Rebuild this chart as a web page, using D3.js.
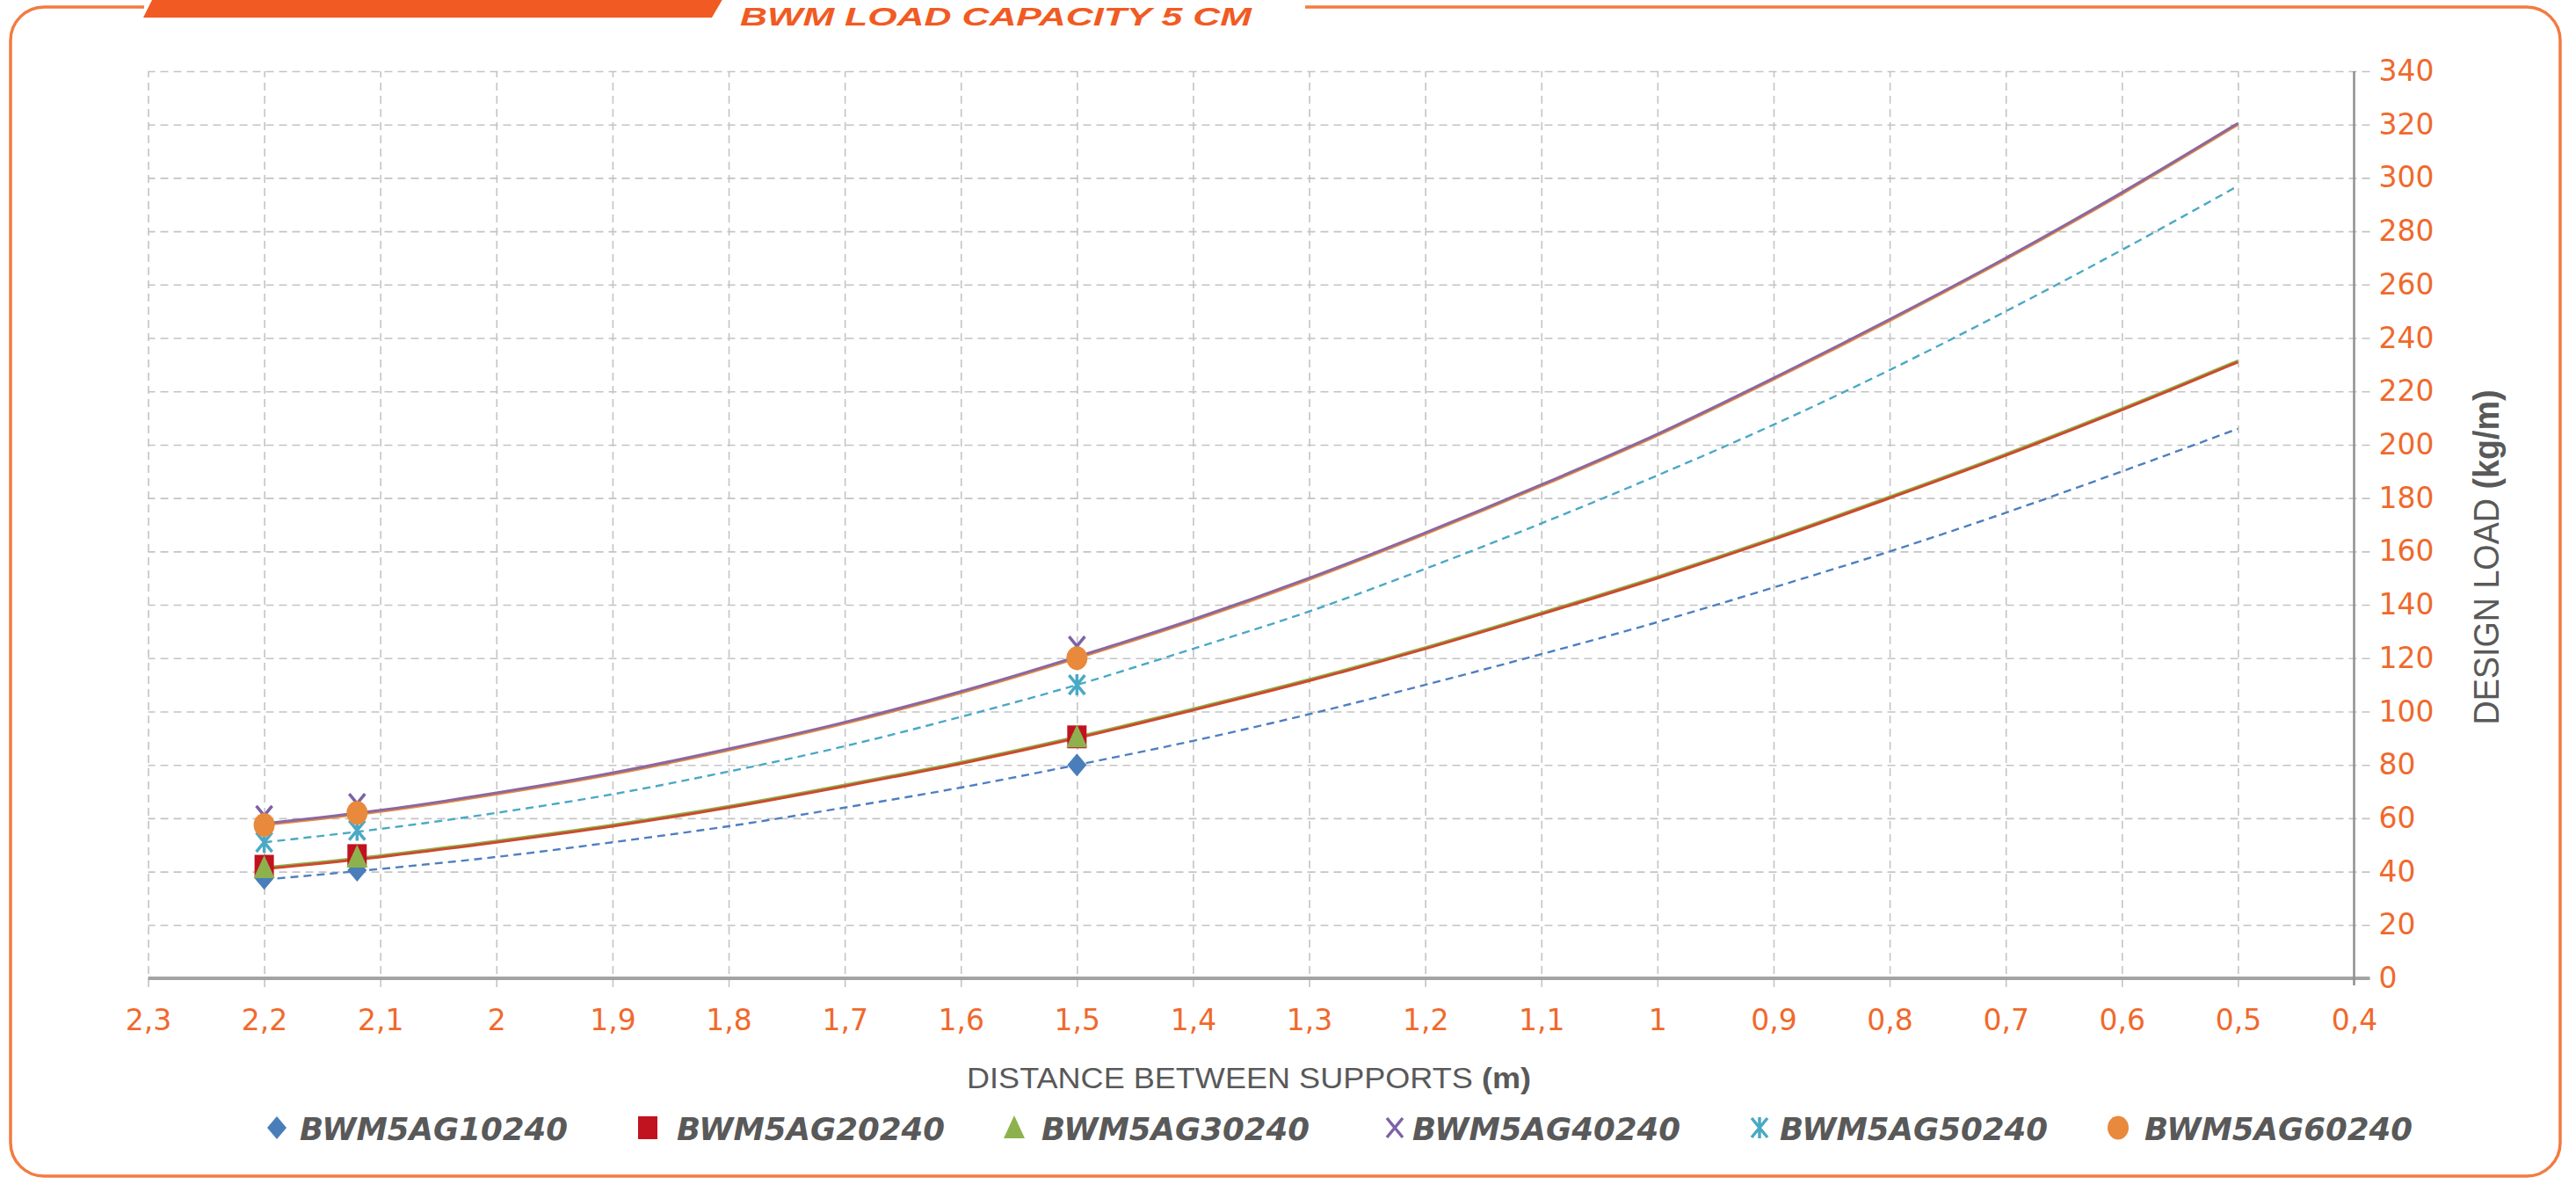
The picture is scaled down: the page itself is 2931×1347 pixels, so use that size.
<!DOCTYPE html>
<html>
<head>
<meta charset="utf-8">
<title>BWM load capacity 5 cm</title>
<script src="https://cdn.jsdelivr.net/npm/d3@7"></script>
<style>
  html, body { margin: 0; padding: 0; background: #fff; }
  svg { display: block; }
</style>
</head>
<body>
<script>
// series names + colours (legend order)
var names = ['BWM5AG10240', 'BWM5AG20240', 'BWM5AG30240', 'BWM5AG40240', 'BWM5AG50240', 'BWM5AG60240'];
var colors = ['#4a7ebb', '#c1121f', '#8db24d', '#7d62a6', '#4aa9c4', '#e8893b'];
// trendline strokes are a touch softer than the markers
var lineColors = ['#4f7fc0', '#cc4a2c', '#8db24d', '#8a68a0', '#4aa9c4', '#e8893b'];

// measured points: distance between supports (m)
var spans = [2.2, 2.12, 1.5];
var load10240 = [37.5, 40.5, 80];
var load20240 = [42, 46, 90.5];
var load30240 = [41.5, 45.5, 90.5];
var load40240 = [61, 65.5, 124.5];
var load50240 = [51, 55.5, 110];
var load60240 = [57.5, 62, 120];

// trendlines, every 0,1 m
var trendX = [2.2, 2.1, 2.0, 1.9, 1.8, 1.7, 1.6, 1.5, 1.4, 1.3, 1.2, 1.1, 1.0, 0.9, 0.8, 0.7, 0.6, 0.5];
var trend10240 = [37, 41, 45.5, 51, 57, 64, 71.5, 80, 89, 99, 110, 121.5, 133.5, 146.5, 160, 174.5, 190, 206];
var trend20240 = [41, 45.5, 51, 57, 64, 72, 80.5, 90, 100.5, 111.5, 123.5, 136.5, 150, 164.5, 180, 196, 213, 231];
var trend30240 = [41.5, 46, 51.5, 57.5, 64.5, 72.5, 81, 90.5, 101, 112, 124, 137, 150.5, 165, 180.5, 196.5, 213.5, 231.5];
var trend40240 = [58, 63, 69.5, 77, 86, 96, 107.5, 120.5, 134.5, 150, 167, 185, 204, 225, 247, 270, 294.5, 320.5];
var trend50240 = [51, 56, 62, 69, 77.5, 87, 98, 110, 123.5, 137.5, 153.5, 170.5, 188.5, 207.5, 228, 250, 273, 297];
var trend60240 = [57.5, 62.5, 69, 76.5, 85.5, 95.5, 107, 120, 134, 149.5, 166.5, 184.5, 203.5, 224.5, 246.5, 269.5, 294, 320];

var xTicks = [2.3, 2.2, 2.1, 2.0, 1.9, 1.8, 1.7, 1.6, 1.5, 1.4, 1.3, 1.2, 1.1, 1.0, 0.9, 0.8, 0.7, 0.6, 0.5, 0.4];
var yTicks = [0, 20, 40, 60, 80, 100, 120, 140, 160, 180, 200, 220, 240, 260, 280, 300, 320, 340];

var loads = [load10240, load20240, load30240, load40240, load50240, load60240];
var trends = [trend10240, trend20240, trend30240, trend40240, trend50240, trend60240];
var dashed = [true, false, false, false, true, false];

var width = 2931;
var height = 1347;
var orange = '#f0692c';
var grey = '#595959';

var svg = d3.select('body').append('svg')
            .attr('width', width)
            .attr('height', height)
            .style('background', '#fff');

// x runs from 2,3 (left) down to 0,4 (right), y axis sits on the right
var x = d3.scaleLinear().domain([2.3, 0.4]).range([168.5, 2678.5]);
var y = d3.scaleLinear().domain([0, 340]).range([1113, 81]);

var comma = d3.formatLocale({decimal: ',', thousands: '.', grouping: [3], currency: ['', '']}).format('.1~f');

// frame + banner
svg.append('path')
   .attr('d', 'M164,8 H50 A38,38 0 0 0 12,46 V1300 A38,38 0 0 0 50,1338 H2875 A38,38 0 0 0 2913,1300 V46 A38,38 0 0 0 2875,8 H1485')
   .attr('fill', 'none')
   .attr('stroke', '#f37b40')
   .attr('stroke-width', 3.5);

svg.append('polygon')
   .attr('points', '163,20 175,-4 824,-4 810,20')
   .attr('fill', '#f15a22');

svg.append('text')
   .attr('x', 842)
   .attr('y', 29)
   .attr('font-family', 'Liberation Sans, Arial, sans-serif')
   .attr('font-weight', 'bold')
   .attr('font-style', 'italic')
   .attr('font-size', 30)
   .attr('fill', '#f15a22')
   .attr('textLength', 582)
   .attr('lengthAdjust', 'spacingAndGlyphs')
   .text('BWM LOAD CAPACITY 5 CM');

// vertical gridlines (they poke a little below the x axis)
var vGrid = svg.append('g')
   .attr('transform', 'translate(0,' + (y(0) + 10) + ')')
   .call(d3.axisBottom(x).tickValues(xTicks.slice(0, -1)).tickSize(-(y(0) + 10 - y(340))).tickFormat(''));
vGrid.select('.domain').remove();

// horizontal gridlines (poke past the y axis on the right)
var hGrid = svg.append('g')
   .attr('transform', 'translate(' + (x(0.4) + 18) + ',0)')
   .call(d3.axisLeft(y).tickValues(yTicks).tickSize(x(0.4) + 18 - x(2.3)).tickFormat(''));
hGrid.select('.domain').remove();

svg.selectAll('.tick line')
   .attr('stroke', '#c4c4c4')
   .attr('stroke-width', 1.6)
   .attr('stroke-dasharray', '9,6');

// axis lines
svg.append('line')
   .attr('x1', x(2.3)).attr('x2', x(0.4) + 18)
   .attr('y1', y(0)).attr('y2', y(0))
   .attr('stroke', '#a3a3a3')
   .attr('stroke-width', 4);
svg.append('line')
   .attr('x1', x(0.4)).attr('x2', x(0.4))
   .attr('y1', y(340)).attr('y2', y(0) + 8)
   .attr('stroke', '#8f8f8f')
   .attr('stroke-width', 2.5);

// tick labels
var xLab = svg.append('g')
   .attr('transform', 'translate(0,' + y(0) + ')')
   .call(d3.axisBottom(x).tickValues(xTicks).tickSize(0).tickPadding(36).tickFormat(comma));
xLab.select('.domain').remove();

var yLab = svg.append('g')
   .attr('transform', 'translate(' + x(0.4) + ',0)')
   .call(d3.axisRight(y).tickValues(yTicks).tickSize(0).tickPadding(28));
yLab.select('.domain').remove();

svg.selectAll('.tick text')
   .attr('fill', orange)
   .attr('font-family', 'DejaVu Sans, sans-serif')
   .attr('font-size', 33);

// axis titles
var xTitle = svg.append('text')
   .attr('x', 1421)
   .attr('y', 1238)
   .attr('text-anchor', 'middle')
   .attr('font-family', 'Liberation Sans, Arial, sans-serif')
   .attr('font-size', 34)
   .attr('fill', grey)
   .attr('textLength', 642)
   .attr('lengthAdjust', 'spacingAndGlyphs');
xTitle.append('tspan').text('DISTANCE BETWEEN SUPPORTS ');
xTitle.append('tspan').attr('font-weight', 'bold').text('(m)');

var yTitle = svg.append('text')
   .attr('transform', 'translate(2843,634)rotate(-90)')
   .attr('text-anchor', 'middle')
   .attr('font-family', 'Liberation Sans, Arial, sans-serif')
   .attr('font-size', 40)
   .attr('fill', grey)
   .attr('textLength', 381)
   .attr('lengthAdjust', 'spacingAndGlyphs');
yTitle.append('tspan').text('DESIGN LOAD ');
yTitle.append('tspan').attr('font-weight', 'bold').text('(kg/m)');

// trendlines, drawn under the markers
var line = d3.line()
   .x(function (d) { return x(d[0]); })
   .y(function (d) { return y(d[1]); })
   .curve(d3.curveMonotoneX);

var lineOrder = [0, 4, 2, 1, 5, 3];
lineOrder.forEach(function (i) {
  svg.append('path')
     .datum(trendX.map(function (t, k) { return [t, trends[i][k]]; }))
     .attr('d', line)
     .attr('fill', 'none')
     .attr('stroke', lineColors[i])
     .attr('stroke-width', dashed[i] ? 2.4 : 3)
     .attr('stroke-dasharray', dashed[i] ? '9,6' : null);
});

// marker shapes, one per series
function drawMarker(g, i) {
  var c = colors[i];
  if (i === 0) {
    g.append('path').attr('d', 'M0,-13L11,0L0,13L-11,0Z').attr('fill', c);
  } else if (i === 1) {
    g.append('path').attr('d', 'M-11,-13H11V13H-11Z').attr('fill', c);
  } else if (i === 2) {
    g.append('path').attr('d', 'M0,-14L12,12H-12Z').attr('fill', c);
  } else if (i === 3) {
    g.append('path').attr('d', 'M-9,-11L9,11M9,-11L-9,11')
     .attr('stroke', c).attr('stroke-width', 3.5).attr('fill', 'none');
  } else if (i === 4) {
    g.append('path').attr('d', 'M-9,-11L9,11M9,-11L-9,11M0,-12V12')
     .attr('stroke', c).attr('stroke-width', 3.5).attr('fill', 'none');
  } else {
    g.append('ellipse').attr('rx', 12).attr('ry', 13.5).attr('fill', c);
  }
}

loads.forEach(function (vals, i) {
  svg.append('g').selectAll('g')
     .data(vals)
     .enter()
     .append('g')
       .attr('transform', function (d, k) { return 'translate(' + x(spans[k]) + ',' + y(d) + ')'; })
       .each(function () { drawMarker(d3.select(this), i); });
});

// legend
var legendMarkX = [315, 737, 1154, 1587, 2002, 2410];
var legendTextX = [341, 770, 1185, 1607, 2025, 2440];
names.forEach(function (name, i) {
  var g = svg.append('g').attr('transform', 'translate(' + legendMarkX[i] + ',1283)');
  drawMarker(g, i);
  svg.append('text')
     .attr('x', legendTextX[i])
     .attr('y', 1297)
     .attr('font-family', 'DejaVu Sans, sans-serif')
     .attr('font-weight', 'bold')
     .attr('font-style', 'italic')
     .attr('font-size', 36)
     .attr('fill', grey)
     .attr('textLength', 305)
     .attr('lengthAdjust', 'spacingAndGlyphs')
     .text(name);
});
</script>
</body>
</html>
